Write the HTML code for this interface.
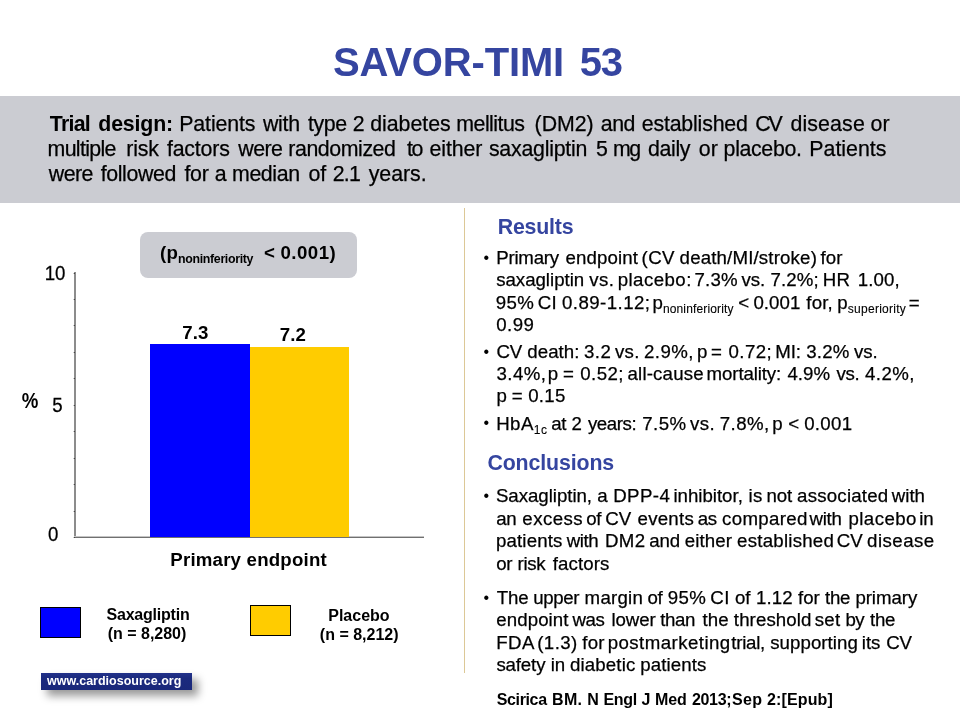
<!DOCTYPE html>
<html lang="en"><head><meta charset="utf-8"><title>SAVOR-TIMI 53</title>
<style>
html,body{margin:0;padding:0}
body{width:960px;height:720px;position:relative;overflow:hidden;background:#fff;font-family:"Liberation Sans",Arial,sans-serif;color:#000}
.t{position:absolute;white-space:nowrap;line-height:1;margin:0;font-weight:normal}
.r{letter-spacing:-0.1px;-webkit-text-stroke:0.25px #000}
.r b{-webkit-text-stroke:0}
.w{position:absolute;top:0}
.b{font-weight:bold}
.band{position:absolute;left:0;top:96px;width:960px;height:107px;background:#cbccd2}
.pill{position:absolute;left:140px;top:232px;width:217px;height:46px;border-radius:8px;background:#cbccd2}
.sub{font-size:12.4px;position:relative;top:3.5px;letter-spacing:-0.35px}
.sub2{font-size:12px;position:relative;top:4px;-webkit-text-stroke:0.1px #000}
.yaxis{position:absolute;left:74px;top:272px;width:2px;height:265px;background:#8c8c8c}
.xaxis{position:absolute;left:74px;top:537px;width:349.5px;height:1px;background:#707070;box-shadow:0 -1px 0 #c4c4c4}
.tick{position:absolute;left:74px;width:1px;height:1px;background:#444;box-shadow:-1px 0 0 #ccc}
.bar{position:absolute}
.sw{position:absolute;border:1px solid #000;box-sizing:border-box}
.url{position:absolute;left:41px;top:673px;width:151px;height:17px;background:linear-gradient(#22328a,#1b2a7e 30%,#1a287a);box-shadow:6px 6px 8px rgba(0,0,0,.40)}
.vline{position:absolute;left:464px;top:208px;width:1px;height:465px;background:#dcc896}
</style></head>
<body>
<h1 class="t b" style="left:333px;top:42.04px;font-size:40px;color:#3545a0;margin:0;letter-spacing:-0.15px;word-spacing:4.8px">SAVOR-TIMI <span style="letter-spacing:-1.3px">53</span></h1>
<div class="band"></div>
<div class="t r bl" style="left:0;top:114.04px;font-size:21.33px;width:960px;height:21.33px"><span id="b0_0" class="w" style="left:49.83px;letter-spacing:-0.759px"><b>Trial</b></span> <span id="b0_1" class="w" style="left:98.25px;letter-spacing:-0.144px"><b>design:</b></span> <span id="b0_2" class="w" style="left:179.26px;letter-spacing:-0.117px">Patients</span> <span id="b0_3" class="w" style="left:263.00px;letter-spacing:-0.308px">with</span> <span id="b0_4" class="w" style="left:307.88px;letter-spacing:-0.390px">type</span> <span id="b0_5" class="w" style="left:352.75px;letter-spacing:0.000px">2</span> <span id="b0_6" class="w" style="left:370.25px;letter-spacing:-0.031px">diabetes</span> <span id="b0_7" class="w" style="left:456.28px;letter-spacing:-0.505px">mellitus</span> <span id="b0_8" class="w" style="left:534.56px;letter-spacing:-0.014px">(DM2)</span> <span id="b0_9" class="w" style="left:600.75px;letter-spacing:-0.468px">and</span> <span id="b0_10" class="w" style="left:641.70px;letter-spacing:-0.167px">established</span> <span id="b0_11" class="w" style="left:755.20px;letter-spacing:-2.000px">CV</span> <span id="b0_12" class="w" style="left:790.40px;letter-spacing:0.142px">disease</span> <span id="b0_13" class="w" style="left:870.50px;letter-spacing:0.059px">or</span></div>
<div class="t r bl" style="left:0;top:139.04px;font-size:21.33px;width:960px;height:21.33px"><span id="b1_0" class="w" style="left:47.53px;letter-spacing:-0.646px">multiple</span> <span id="b1_1" class="w" style="left:126.28px;letter-spacing:-0.153px">risk</span> <span id="b1_2" class="w" style="left:166.90px;letter-spacing:-0.163px">factors</span> <span id="b1_3" class="w" style="left:238.25px;letter-spacing:-0.514px">were</span> <span id="b1_4" class="w" style="left:288.28px;letter-spacing:-0.420px">randomized</span> <span id="b1_5" class="w" style="left:406.88px;letter-spacing:-1.376px">to</span> <span id="b1_6" class="w" style="left:429.50px;letter-spacing:-0.100px">either</span> <span id="b1_7" class="w" style="left:488.94px;letter-spacing:-0.236px">saxagliptin</span> <span id="b1_8" class="w" style="left:595.93px;letter-spacing:0.000px">5</span> <span id="b1_9" class="w" style="left:613.03px;letter-spacing:-1.483px">mg</span> <span id="b1_10" class="w" style="left:648.10px;letter-spacing:-0.380px">daily</span> <span id="b1_11" class="w" style="left:698.70px;letter-spacing:0.259px">or</span> <span id="b1_12" class="w" style="left:723.61px;letter-spacing:-0.342px">placebo.</span> <span id="b1_13" class="w" style="left:809.31px;letter-spacing:0.005px">Patients</span></div>
<div class="t r bl" style="left:0;top:164.04px;font-size:21.33px;width:960px;height:21.33px"><span id="b2_0" class="w" style="left:48.75px;letter-spacing:-0.514px">were</span> <span id="b2_1" class="w" style="left:100.65px;letter-spacing:-0.378px">followed</span> <span id="b2_2" class="w" style="left:184.40px;letter-spacing:-0.194px">for</span> <span id="b2_3" class="w" style="left:214.75px;letter-spacing:0.000px">a</span> <span id="b2_4" class="w" style="left:232.03px;letter-spacing:-0.390px">median</span> <span id="b2_5" class="w" style="left:308.50px;letter-spacing:-0.148px">of</span> <span id="b2_6" class="w" style="left:332.75px;letter-spacing:-0.745px">2.1</span> <span id="b2_7" class="w" style="left:368.71px;letter-spacing:-0.037px">years.</span></div>
<div class="pill"></div>
<div class="t b" style="left:160.00px;top:244.05px;font-size:18.67px;letter-spacing:0.25px;">(p<span class="sub">noninferiority</span> &nbsp;&lt; <span style="letter-spacing:0.45px">0.001)</span></div>
<div class="yaxis"></div><div class="xaxis"></div>
<div class="tick" style="top:537.0px"></div>
<div class="tick" style="top:510.6px"></div>
<div class="tick" style="top:484.1px"></div>
<div class="tick" style="top:457.6px"></div>
<div class="tick" style="top:431.2px"></div>
<div class="tick" style="top:404.8px"></div>
<div class="tick" style="top:378.3px"></div>
<div class="tick" style="top:351.9px"></div>
<div class="tick" style="top:325.4px"></div>
<div class="tick" style="top:299.0px"></div>
<div class="tick" style="top:272.5px"></div>
<div class="bar" style="left:150px;top:344px;width:100px;height:193px;background:#0000ff"></div>
<div class="bar" style="left:249.5px;top:347px;width:99.5px;height:190px;background:#ffcc00"></div>
<div class="t b" style="left:-204.70px;width:800px;text-align:center;top:324.05px;font-size:18.67px;">7.3</div>
<div class="t b" style="left:-107.20px;width:800px;text-align:center;top:326.05px;font-size:18.67px;">7.2</div>
<div class="t " style="left:-344.90px;width:800px;text-align:center;top:265.05px;font-size:18.67px;transform:scaleY(1.07);transform-origin:50% 84.65%;-webkit-text-stroke:0.25px #000;">10</div>
<div class="t " style="left:-342.60px;width:800px;text-align:center;top:397.05px;font-size:18.67px;transform:scaleY(1.07);transform-origin:50% 84.65%;-webkit-text-stroke:0.25px #000;">5</div>
<div class="t " style="left:-346.90px;width:800px;text-align:center;top:526.05px;font-size:18.67px;transform:scaleY(1.07);transform-origin:50% 84.65%;-webkit-text-stroke:0.25px #000;">0</div>
<div class="t b" style="left:21.70px;top:392.05px;font-size:18.67px;transform:scaleY(1.14);transform-origin:50% 50%;">%</div>
<div class="t b" style="left:-151.40px;width:800px;text-align:center;top:551.05px;font-size:18.67px;letter-spacing:0.2px;">Primary endpoint</div>
<div class="sw" style="left:40px;top:607px;width:41px;height:31px;background:#0000ff"></div>
<div class="sw" style="left:250px;top:605px;width:41px;height:31px;background:#ffcc00"></div>
<div class="t b" style="left:-252.00px;width:800px;text-align:center;top:607.01px;font-size:16px;letter-spacing:-0.22px;">Saxagliptin</div>
<div class="t b" style="left:-253.00px;width:800px;text-align:center;top:626.01px;font-size:16px;">(n = 8,280)</div>
<div class="t b" style="left:-41.10px;width:800px;text-align:center;top:608.01px;font-size:16px;">Placebo</div>
<div class="t b" style="left:-40.80px;width:800px;text-align:center;top:627.01px;font-size:16px;">(n = 8,212)</div>
<div class="url"></div>
<div class="t b" style="left:47.00px;top:675.02px;font-size:12.5px;color:#fff;">www.cardiosource.org</div>
<div class="vline"></div>
<div class="t b" style="left:497.70px;top:217.04px;font-size:21.33px;color:#3545a0;letter-spacing:-0.18px;">Results</div>
<div class="t " style="left:483.60px;top:250.01px;font-size:16px;">&bull;</div>
<div class="t r bl" style="left:0;top:249.05px;font-size:18.67px;width:960px;height:18.67px"><span id="r0_0" class="w" style="left:496.16px;letter-spacing:-0.209px">Primary</span> <span id="r0_1" class="w" style="left:565.60px;letter-spacing:0.109px">endpoint</span> <span id="r0_2" class="w" style="left:641.55px;letter-spacing:0.425px">(CV</span> <span id="r0_3" class="w" style="left:679.62px;letter-spacing:0.164px">death/MI/stroke)</span> <span id="r0_4" class="w" style="left:820.62px;letter-spacing:0.009px">for</span></div>
<div class="t r bl" style="left:0;top:271.05px;font-size:18.67px;width:960px;height:18.67px"><span id="r1_0" class="w" style="left:496.13px;letter-spacing:-0.008px">saxagliptin</span> <span id="r1_1" class="w" style="left:589.16px;letter-spacing:0.450px">vs.</span> <span id="r1_2" class="w" style="left:617.65px;letter-spacing:0.450px">placebo:</span> <span id="r1_3" class="w" style="left:694.45px;letter-spacing:0.205px">7.3%</span> <span id="r1_4" class="w" style="left:741.41px;letter-spacing:-0.048px">vs.</span> <span id="r1_5" class="w" style="left:770.45px;letter-spacing:0.150px">7.2%;</span> <span id="r1_6" class="w" style="left:822.66px;letter-spacing:0.450px">HR</span> <span id="r1_7" class="w" style="left:857.70px;letter-spacing:0.103px">1.00,</span></div>
<div class="t r bl" style="left:0;top:294.05px;font-size:18.67px;width:960px;height:18.67px"><span id="r2_0" class="w" style="left:495.70px;letter-spacing:0.450px">95%</span> <span id="r2_1" class="w" style="left:537.70px;letter-spacing:0.450px">CI</span> <span id="r2_2" class="w" style="left:561.94px;letter-spacing:0.450px">0.89-1.12;</span> <span id="r2_3" class="w" style="left:652.40px;letter-spacing:0.142px">p<span class="sub2">noninferiority</span></span> <span id="r2_4" class="w" style="left:738.25px;letter-spacing:0.000px">&lt;</span> <span id="r2_5" class="w" style="left:753.44px;letter-spacing:0.061px">0.001</span> <span id="r2_6" class="w" style="left:806.37px;letter-spacing:0.139px">for,</span> <span id="r2_7" class="w" style="left:837.15px;letter-spacing:0.271px">p<span class="sub2">superiority</span></span> <span id="r2_8" class="w" style="left:908.78px;letter-spacing:0.000px">=</span></div>
<div class="t r bl" style="left:0;top:316.05px;font-size:18.67px;width:960px;height:18.67px"><span id="r3_0" class="w" style="left:496.19px;letter-spacing:0.450px">0.99</span></div>
<div class="t " style="left:483.60px;top:344.01px;font-size:16px;">&bull;</div>
<div class="t r bl" style="left:0;top:343.05px;font-size:18.67px;width:960px;height:18.67px"><span id="r4_0" class="w" style="left:496.45px;letter-spacing:-0.048px">CV</span> <span id="r4_1" class="w" style="left:527.37px;letter-spacing:0.036px">death:</span> <span id="r4_2" class="w" style="left:583.95px;letter-spacing:0.450px">3.2</span> <span id="r4_3" class="w" style="left:614.91px;letter-spacing:0.327px">vs.</span> <span id="r4_4" class="w" style="left:643.95px;letter-spacing:0.450px">2.9%,</span> <span id="r4_5" class="w" style="left:697.05px;letter-spacing:0.000px">p</span> <span id="r4_6" class="w" style="left:711.03px;letter-spacing:0.000px">=</span> <span id="r4_7" class="w" style="left:728.44px;letter-spacing:0.450px">0.72;</span> <span id="r4_8" class="w" style="left:775.16px;letter-spacing:-0.056px">MI:</span> <span id="r4_9" class="w" style="left:806.20px;letter-spacing:0.205px">3.2%</span> <span id="r4_10" class="w" style="left:853.91px;letter-spacing:-0.048px">vs.</span></div>
<div class="t r bl" style="left:0;top:365.05px;font-size:18.67px;width:960px;height:18.67px"><span id="r5_0" class="w" style="left:496.45px;letter-spacing:0.450px">3.4%,</span> <span id="r5_1" class="w" style="left:547.65px;letter-spacing:0.000px">p</span> <span id="r5_2" class="w" style="left:563.03px;letter-spacing:0.000px">=</span> <span id="r5_3" class="w" style="left:580.19px;letter-spacing:0.450px">0.52;</span> <span id="r5_4" class="w" style="left:627.59px;letter-spacing:0.167px">all-cause</span> <span id="r5_5" class="w" style="left:706.62px;letter-spacing:-0.118px">mortality:</span> <span id="r5_6" class="w" style="left:787.45px;letter-spacing:0.039px">4.9%</span> <span id="r5_7" class="w" style="left:836.41px;letter-spacing:-0.298px">vs.</span> <span id="r5_8" class="w" style="left:864.95px;letter-spacing:0.450px">4.2%,</span></div>
<div class="t r bl" style="left:0;top:387.05px;font-size:18.67px;width:960px;height:18.67px"><span id="r6_0" class="w" style="left:496.40px;letter-spacing:0.000px">p</span> <span id="r6_1" class="w" style="left:511.78px;letter-spacing:0.000px">=</span> <span id="r6_2" class="w" style="left:528.19px;letter-spacing:0.301px">0.15</span></div>
<div class="t " style="left:483.60px;top:415.01px;font-size:16px;">&bull;</div>
<div class="t r bl" style="left:0;top:415.05px;font-size:18.67px;width:960px;height:18.67px"><span id="r7_0" class="w" style="left:496.16px;letter-spacing:0.450px">HbA<span class="sub2">1c</span></span> <span id="r7_1" class="w" style="left:551.34px;letter-spacing:-0.450px">at</span> <span id="r7_2" class="w" style="left:571.45px;letter-spacing:0.000px">2</span> <span id="r7_3" class="w" style="left:587.91px;letter-spacing:-0.422px">years:</span> <span id="r7_4" class="w" style="left:642.20px;letter-spacing:0.450px">7.5%</span> <span id="r7_5" class="w" style="left:690.06px;letter-spacing:0.450px">vs.</span> <span id="r7_6" class="w" style="left:719.70px;letter-spacing:0.450px">7.8%,</span> <span id="r7_7" class="w" style="left:772.15px;letter-spacing:0.000px">p</span> <span id="r7_8" class="w" style="left:788.25px;letter-spacing:0.000px">&lt;</span> <span id="r7_9" class="w" style="left:804.19px;letter-spacing:0.311px">0.001</span></div>
<div class="t b" style="left:487.40px;top:453.04px;font-size:21.33px;color:#3545a0;letter-spacing:-0.12px;">Conclusions</div>
<div class="t " style="left:483.60px;top:488.01px;font-size:16px;">&bull;</div>
<div class="t r bl" style="left:0;top:487.05px;font-size:18.67px;width:960px;height:18.67px"><span id="r8_0" class="w" style="left:495.92px;letter-spacing:-0.028px">Saxagliptin,</span> <span id="r8_1" class="w" style="left:597.34px;letter-spacing:0.000px">a</span> <span id="r8_2" class="w" style="left:613.16px;letter-spacing:0.450px">DPP-4</span> <span id="r8_3" class="w" style="left:673.39px;letter-spacing:-0.003px">inhibitor,</span> <span id="r8_4" class="w" style="left:748.39px;letter-spacing:0.450px">is</span> <span id="r8_5" class="w" style="left:766.62px;letter-spacing:-0.214px">not</span> <span id="r8_6" class="w" style="left:797.09px;letter-spacing:0.218px">associated</span> <span id="r8_7" class="w" style="left:891.80px;letter-spacing:-0.000px">with</span></div>
<div class="t r bl" style="left:0;top:510.05px;font-size:18.67px;width:960px;height:18.67px"><span id="r9_0" class="w" style="left:496.34px;letter-spacing:-0.450px">an</span> <span id="r9_1" class="w" style="left:522.35px;letter-spacing:0.450px">excess</span> <span id="r9_2" class="w" style="left:586.36px;letter-spacing:-0.450px">of</span> <span id="r9_3" class="w" style="left:605.20px;letter-spacing:0.202px">CV</span> <span id="r9_4" class="w" style="left:637.60px;letter-spacing:0.231px">events</span> <span id="r9_5" class="w" style="left:697.84px;letter-spacing:-0.450px">as</span> <span id="r9_6" class="w" style="left:722.10px;letter-spacing:0.337px">compared</span> <span id="r9_7" class="w" style="left:809.45px;letter-spacing:-0.217px">with</span> <span id="r9_8" class="w" style="left:848.40px;letter-spacing:0.449px">placebo</span> <span id="r9_9" class="w" style="left:919.14px;letter-spacing:0.036px">in</span></div>
<div class="t r bl" style="left:0;top:532.05px;font-size:18.67px;width:960px;height:18.67px"><span id="r10_0" class="w" style="left:495.90px;letter-spacing:0.164px">patients</span> <span id="r10_1" class="w" style="left:566.70px;letter-spacing:-0.450px">with</span> <span id="r10_2" class="w" style="left:604.91px;letter-spacing:0.372px">DM2</span> <span id="r10_3" class="w" style="left:649.34px;letter-spacing:-0.146px">and</span> <span id="r10_4" class="w" style="left:684.85px;letter-spacing:0.109px">either</span> <span id="r10_5" class="w" style="left:737.10px;letter-spacing:0.232px">established</span> <span id="r10_6" class="w" style="left:836.70px;letter-spacing:0.202px">CV</span> <span id="r10_7" class="w" style="left:867.12px;letter-spacing:0.450px">disease</span></div>
<div class="t r bl" style="left:0;top:555.05px;font-size:18.67px;width:960px;height:18.67px"><span id="r11_0" class="w" style="left:496.21px;letter-spacing:-0.450px">or</span> <span id="r11_1" class="w" style="left:517.62px;letter-spacing:-0.330px">risk</span> <span id="r11_2" class="w" style="left:552.82px;letter-spacing:0.088px">factors</span></div>
<div class="t " style="left:483.60px;top:590.01px;font-size:16px;">&bull;</div>
<div class="t r bl" style="left:0;top:589.05px;font-size:18.67px;width:960px;height:18.67px"><span id="r12_0" class="w" style="left:496.75px;letter-spacing:-0.086px">The</span> <span id="r12_1" class="w" style="left:533.15px;letter-spacing:-0.378px">upper</span> <span id="r12_2" class="w" style="left:584.62px;letter-spacing:0.237px">margin</span> <span id="r12_3" class="w" style="left:647.61px;letter-spacing:-0.450px">of</span> <span id="r12_4" class="w" style="left:667.70px;letter-spacing:0.450px">95%</span> <span id="r12_5" class="w" style="left:710.30px;letter-spacing:0.450px">CI</span> <span id="r12_6" class="w" style="left:735.11px;letter-spacing:-0.212px">of</span> <span id="r12_7" class="w" style="left:755.95px;letter-spacing:0.153px">1.12</span> <span id="r12_8" class="w" style="left:798.12px;letter-spacing:-0.116px">for</span> <span id="r12_9" class="w" style="left:825.11px;letter-spacing:-0.280px">the</span> <span id="r12_10" class="w" style="left:855.40px;letter-spacing:-0.058px">primary</span></div>
<div class="t r bl" style="left:0;top:611.05px;font-size:18.67px;width:960px;height:18.67px"><span id="r13_0" class="w" style="left:496.35px;letter-spacing:0.074px">endpoint</span> <span id="r13_1" class="w" style="left:572.45px;letter-spacing:-0.350px">was</span> <span id="r13_2" class="w" style="left:611.38px;letter-spacing:-0.063px">lower</span> <span id="r13_3" class="w" style="left:660.36px;letter-spacing:-0.450px">than</span> <span id="r13_4" class="w" style="left:702.51px;letter-spacing:0.145px">the</span> <span id="r13_5" class="w" style="left:733.86px;letter-spacing:0.101px">threshold</span> <span id="r13_6" class="w" style="left:814.63px;letter-spacing:0.280px">set</span> <span id="r13_7" class="w" style="left:845.39px;letter-spacing:-0.450px">by</span> <span id="r13_8" class="w" style="left:870.11px;letter-spacing:-0.280px">the</span></div>
<div class="t r bl" style="left:0;top:634.05px;font-size:18.67px;width:960px;height:18.67px"><span id="r14_0" class="w" style="left:496.16px;letter-spacing:0.450px">FDA</span> <span id="r14_1" class="w" style="left:537.15px;letter-spacing:0.450px">(1.3)</span> <span id="r14_2" class="w" style="left:582.37px;letter-spacing:0.134px">for</span> <span id="r14_3" class="w" style="left:607.65px;letter-spacing:0.450px">postmarketing</span> <span id="r14_4" class="w" style="left:731.36px;letter-spacing:-0.260px">trial,</span> <span id="r14_5" class="w" style="left:770.23px;letter-spacing:0.053px">supporting</span> <span id="r14_6" class="w" style="left:861.74px;letter-spacing:0.002px">its</span> <span id="r14_7" class="w" style="left:886.30px;letter-spacing:-0.198px">CV</span></div>
<div class="t r bl" style="left:0;top:656.05px;font-size:18.67px;width:960px;height:18.67px"><span id="r15_0" class="w" style="left:496.38px;letter-spacing:-0.137px">safety</span> <span id="r15_1" class="w" style="left:550.64px;letter-spacing:0.036px">in</span> <span id="r15_2" class="w" style="left:570.12px;letter-spacing:0.118px">diabetic</span> <span id="r15_3" class="w" style="left:640.15px;letter-spacing:0.129px">patients</span></div>
<div class="t b bl" style="left:0;top:692.01px;font-size:16px;width:960px;height:16px"><span id="c0_0" class="w" style="left:496.78px;letter-spacing:-0.368px">Scirica</span> <span id="c0_1" class="w" style="left:552.00px;letter-spacing:0.363px">BM.</span> <span id="c0_2" class="w" style="left:587.25px;letter-spacing:0.000px">N</span> <span id="c0_3" class="w" style="left:603.40px;letter-spacing:-0.253px">Engl</span> <span id="c0_4" class="w" style="left:641.47px;letter-spacing:0.000px">J</span> <span id="c0_5" class="w" style="left:655.10px;letter-spacing:-0.175px">Med</span> <span id="c0_6" class="w" style="left:691.98px;letter-spacing:-0.331px">2013;</span> <span id="c0_7" class="w" style="left:731.88px;letter-spacing:0.400px">Sep</span> <span id="c0_8" class="w" style="left:766.98px;letter-spacing:0.146px">2:[Epub]</span></div>
</body></html>
